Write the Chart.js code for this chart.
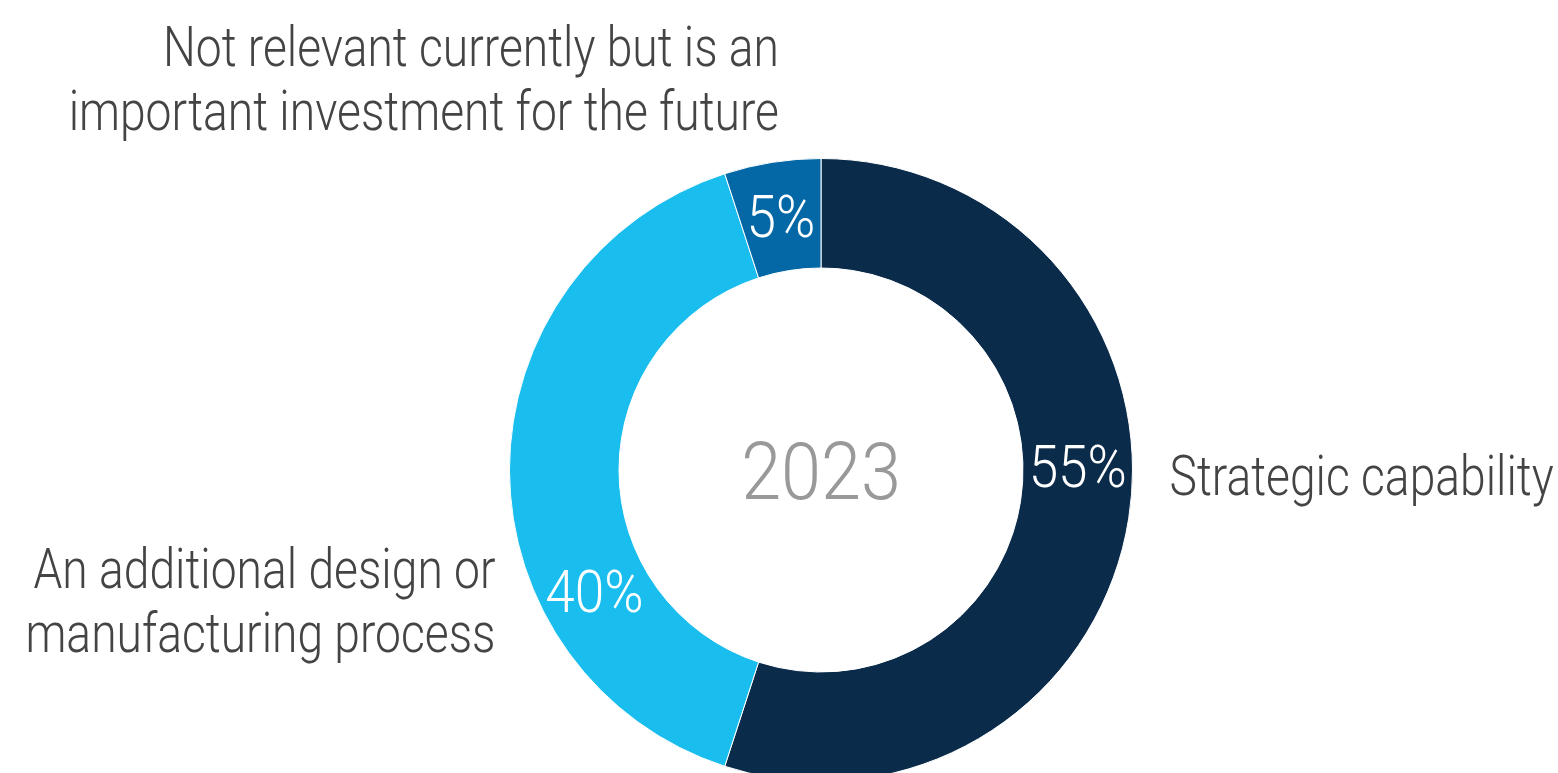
<!DOCTYPE html>
<html>
<head>
<meta charset="utf-8">
<script src="https://cdn.jsdelivr.net/npm/chart.js@4.4.1/dist/chart.umd.min.js"></script>
<style>
  html, body { margin: 0; padding: 0; background: #ffffff; overflow: hidden; }
  #wrap { position: absolute; left: 0; top: 0; width: 1558px; height: 940px; }
</style>
</head>
<body>
<div id="wrap"><canvas id="chart" width="1558" height="940"></canvas></div>
<script>
// Survey answers for 2023, clockwise from the top
const categories = [
  'Strategic capability',
  'An additional design or manufacturing process',
  'Not relevant currently but is an important investment for the future'
];
const shares = [55, 40, 5];
const sliceColors = ['#0b2b4a', '#19bdee', '#0568a6'];
const centerTitle = '2023';

// Category captions, broken into lines
const captionLines = [
  ['Strategic capability'],
  ['An additional design or', 'manufacturing process'],
  ['Not relevant currently but is an', 'important investment for the future']
];

const FONT = 'Roboto, "Noto Sans", sans-serif';
const WORD_SQUEEZE = 0.84;  // narrow the light face to a condensed look
const DIGIT_SQUEEZE = 0.90; // figures stay a little wider

function condensedText(ctx, text, x, y, align, size, color, squeeze) {
  ctx.save();
  ctx.font = '300 ' + size + 'px ' + FONT;
  ctx.fillStyle = color;
  ctx.textBaseline = 'alphabetic';
  const w = ctx.measureText(text).width * squeeze;
  let left = x;
  if (align === 'right') left = x - w;
  else if (align === 'center') left = x - w / 2;
  ctx.translate(left, y);
  ctx.scale(squeeze, 1);
  ctx.textAlign = 'left';
  ctx.fillText(text, 0, 0);
  ctx.restore();
}

const ringLabels = {
  id: 'ringLabels',
  afterDatasetsDraw(chart, args, opts) {
    const ctx = chart.ctx;
    const meta = chart.getDatasetMeta(0);
    const values = chart.data.datasets[0].data;
    meta.data.forEach((arc, i) => {
      const p = arc.getProps(['x', 'y', 'innerRadius', 'outerRadius'], true);
      const mid = (p.innerRadius + p.outerRadius) / 2;
      const a = opts.angles[i] * Math.PI / 180;
      const cx = p.x + mid * Math.sin(a);
      const cy = p.y - mid * Math.cos(a);
      condensedText(ctx, values[i] + '%', cx, cy + 21, 'center', 59, '#ffffff', DIGIT_SQUEEZE);
    });

    const c = meta.data[0];
    condensedText(ctx, centerTitle, c.x, c.y + 29, 'center', 80, '#999999', DIGIT_SQUEEZE);

    // category captions around the ring
    const ox = c.x, oy = c.y, R = c.outerRadius;
    const lh = 64;
    condensedText(ctx, captionLines[0][0], ox + R + 37, oy + 25, 'left', 55, '#444444', WORD_SQUEEZE);
    captionLines[1].forEach((t, k) =>
      condensedText(ctx, t, ox - R - 14, oy + 118 + k * lh, 'right', 55, '#444444', WORD_SQUEEZE));
    captionLines[2].forEach((t, k) =>
      condensedText(ctx, t, ox - 42, oy - 404 + k * lh, 'right', 55, '#444444', WORD_SQUEEZE));
  }
};

new Chart(document.getElementById('chart'), {
  type: 'doughnut',
  data: {
    labels: categories,
    datasets: [{
      data: shares,
      backgroundColor: sliceColors,
      borderColor: '#ffffff',
      borderWidth: 1,
      hoverOffset: 0
    }]
  },
  options: {
    responsive: false,
    animation: false,
    cutout: 202,
    layout: { padding: { left: 509, right: 425, top: 157, bottom: 157 } },
    plugins: {
      legend: { display: false },
      tooltip: { enabled: false },
      ringLabels: { angles: [89, 242, 351] }
    }
  },
  plugins: [ringLabels]
});
</script>
</body>
</html>
